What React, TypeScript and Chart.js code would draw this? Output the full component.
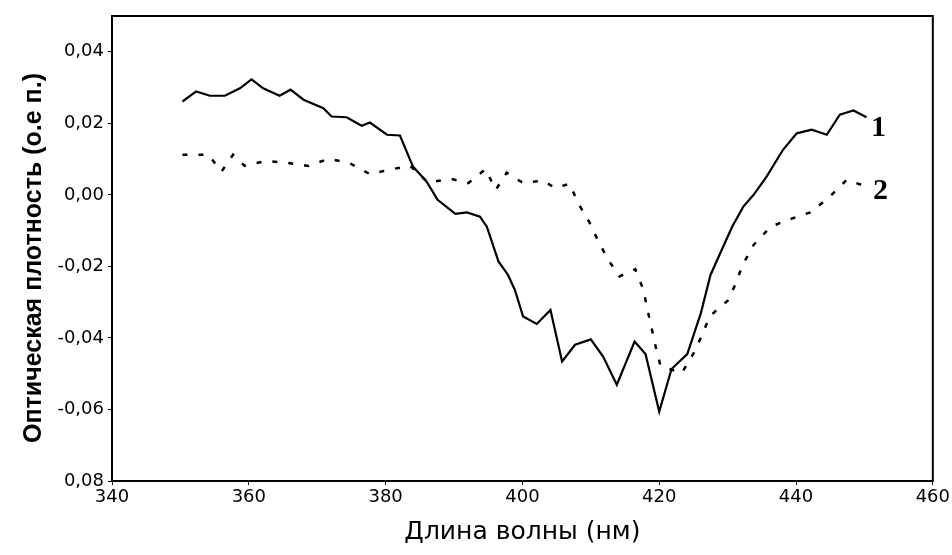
import React, { useEffect, useRef } from "react";
import { Chart, registerables } from "chart.js";

Chart.register(...registerables);

// Curve 1 (solid)
const wavelengths1 = [
  350.3, 352.3, 354.3, 356.5, 358.7, 360.4, 362.1, 364.5, 366.1, 368.0,
  370.9, 372.1, 374.3, 376.5, 377.7, 380.2, 382.1, 384.0, 386.0, 387.6,
  390.2, 391.9, 393.8, 394.8, 396.5, 397.9, 398.9, 400.1, 402.1, 404.1,
  405.8, 407.7, 410.0, 411.8, 413.8, 416.4, 418.0, 420.0, 421.8, 424.1,
  426.1, 427.5, 428.8, 430.7, 432.3, 433.8, 435.7, 438.1, 440.1, 442.3,
  444.5, 446.4, 448.4, 450.3,
];
const absorbance1 = [
  0.0261, 0.0289, 0.0277, 0.0277, 0.0298, 0.0323, 0.0298, 0.0277, 0.0294, 0.0266,
  0.0242, 0.0219, 0.0217, 0.0193, 0.0202, 0.0168, 0.0166, 0.0079, 0.0037, -0.0014,
  -0.0053, -0.0049, -0.0061, -0.0089, -0.0186, -0.0224, -0.0266, -0.034, -0.0361, -0.0322,
  -0.0466, -0.0419, -0.0404, -0.0452, -0.0531, -0.041, -0.0445, -0.0606, -0.0487, -0.0445,
  -0.033, -0.0224, -0.0168, -0.0088, -0.0033, 0.0, 0.0051, 0.0126, 0.0172, 0.0182,
  0.0168, 0.0224, 0.0236, 0.0217,
];

// Curve 2 (dashed)
const wavelengths2 = [
  350.3, 354.1, 356.0, 357.7, 359.4, 362.5, 365.4, 368.7, 371.7, 374.7,
  377.7, 380.7, 383.6, 386.2, 389.5, 392.1, 394.6, 396.1, 397.7, 400.1,
  403.0, 404.8, 406.9, 408.2, 409.8, 411.2, 412.7, 414.2, 416.5, 417.7,
  418.2, 418.9, 419.5, 420.2, 423.3, 425.0, 426.2, 427.4, 430.0, 431.1,
  432.2, 433.8, 436.3, 439.1, 442.1, 444.9, 447.4, 450.3,
];
const absorbance2 = [
  0.0112, 0.0112, 0.0065, 0.0112, 0.0081, 0.0095, 0.009, 0.0081, 0.0101, 0.0089,
  0.0058, 0.0071, 0.0081, 0.0034, 0.0045, 0.0033, 0.0072, 0.0014, 0.0062, 0.0033,
  0.004, 0.0019, 0.0031, -0.0025, -0.0077, -0.0134, -0.0186, -0.0228, -0.0208, -0.0266,
  -0.0314, -0.0373, -0.0426, -0.0479, -0.0498, -0.0444, -0.0395, -0.0339, -0.0296, -0.0252,
  -0.0196, -0.014, -0.0089, -0.0068, -0.0049, -0.0006, 0.0042, 0.0023,
];

const xTickValues = [340, 360, 380, 400, 420, 440, 460];
const yTickValues = [-0.08, -0.06, -0.04, -0.02, 0, 0.02, 0.04];
const yTickLabels = ["0,08", "-0,06", "-0,04", "-0,02", "0,00", "0,02", "0,04"];
const curveLabels = ["1", "2"];
const xTitle = "Длина волны (нм)";
const yTitle = "Оптическая плотность (о.е п.)";

const framePlugin = {
  id: "frameAndLabels",
  afterDraw(chart: any) {
    const { ctx, chartArea } = chart;
    const { left, top, right, bottom } = chartArea;
    ctx.save();
    ctx.strokeStyle = "#000";
    ctx.lineWidth = 2;
    ctx.strokeRect(left, top, right - left, bottom - top);

    // y-axis title
    ctx.save();
    ctx.translate(34, 258);
    ctx.rotate(-Math.PI / 2);
    ctx.font = 'bold 25px "Liberation Sans", Arial, sans-serif';
    ctx.fillStyle = "#000";
    ctx.textAlign = "center";
    ctx.textBaseline = "middle";
    ctx.fillText(yTitle, 0, 0);
    ctx.restore();

    // curve labels near the end of each series
    const offsets = [
      [12, 11],
      [14, 5],
    ];
    ctx.font = 'bold 30px "Liberation Serif", "Times New Roman", serif';
    ctx.fillStyle = "#000";
    ctx.textAlign = "center";
    ctx.textBaseline = "middle";
    chart.data.datasets.forEach((ds: any, i: number) => {
      const meta = chart.getDatasetMeta(i);
      const last = meta.data[meta.data.length - 1];
      if (!last) return;
      ctx.fillText(curveLabels[i], last.x + offsets[i][0], last.y + offsets[i][1]);
    });
    ctx.restore();
  },
};

export default function App() {
  const canvasRef = useRef<HTMLCanvasElement | null>(null);

  useEffect(() => {
    document.body.style.margin = "0";
    const canvas = canvasRef.current;
    if (!canvas) return;
    const chart = new Chart(canvas, {
      type: "line",
      data: {
        datasets: [
          {
            label: curveLabels[0],
            data: wavelengths1.map((x, i) => ({ x, y: absorbance1[i] })),
            borderColor: "#000",
            borderWidth: 2.2,
            pointRadius: 0,
            tension: 0,
            fill: false,
          },
          {
            label: curveLabels[1],
            data: wavelengths2.map((x, i) => ({ x, y: absorbance2[i] })),
            borderColor: "#000",
            borderWidth: 2.5,
            borderDash: [5, 11],
            pointRadius: 0,
            tension: 0,
            fill: false,
          },
        ],
      },
      options: {
        animation: false,
        responsive: true,
        maintainAspectRatio: false,
        layout: { padding: { left: 0, top: 16, right: 19, bottom: 0 } },
        plugins: {
          legend: { display: false },
          tooltip: { enabled: false },
          title: { display: false },
        },
        scales: {
          x: {
            type: "linear",
            min: 340,
            max: 460,
            afterBuildTicks: (s: any) => {
              s.ticks = xTickValues.map((v) => ({ value: v }));
            },
            afterFit: (s: any) => {
              s.height = 74;
            },
            grid: {
              drawOnChartArea: false,
              drawTicks: true,
              tickLength: 4,
              color: "#000",
            },
            border: { display: true, color: "#000", width: 2 },
            ticks: {
              color: "#000",
              padding: 2,
              maxRotation: 0,
              font: { family: '"DejaVu Sans", sans-serif', size: 18 },
              callback: (v: any) => String(v),
            },
            title: {
              display: true,
              text: xTitle,
              color: "#000",
              font: { family: '"DejaVu Sans", sans-serif', size: 25 },
              padding: { top: 0, bottom: 8 },
            },
          },
          y: {
            type: "linear",
            min: -0.08,
            max: 0.05,
            afterBuildTicks: (s: any) => {
              s.ticks = yTickValues.map((v) => ({ value: v }));
            },
            afterFit: (s: any) => {
              s.width = 112;
            },
            grid: {
              drawOnChartArea: false,
              drawTicks: true,
              tickLength: 4,
              color: "#000",
            },
            border: { display: true, color: "#000", width: 2 },
            ticks: {
              color: "#000",
              padding: 4,
              font: { family: '"DejaVu Sans", sans-serif', size: 18 },
              callback: (v: any) => {
                const idx = yTickValues.findIndex((t) => Math.abs(t - Number(v)) < 1e-9);
                return idx >= 0 ? yTickLabels[idx] : "";
              },
            },
          },
        },
      },
      plugins: [framePlugin],
    });
    return () => chart.destroy();
  }, []);

  return (
    <div style={{ position: "relative", width: 952, height: 555, background: "#fff" }}>
      <canvas ref={canvasRef} />
    </div>
  );
}
